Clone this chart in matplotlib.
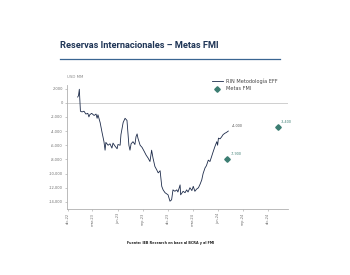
import matplotlib
matplotlib.use("Agg")
import matplotlib.pyplot as plt
import pandas as pd

# ---- data ----
rin_dates = [
    "2023-01-06", "2023-01-09", "2023-01-12", "2023-01-16", "2023-01-22", "2023-01-29",
    "2023-02-05", "2023-02-12", "2023-02-16", "2023-02-19", "2023-02-26", "2023-03-07",
    "2023-03-14", "2023-03-18", "2023-03-21", "2023-03-29", "2023-04-05", "2023-04-12",
    "2023-04-16", "2023-04-19", "2023-04-27", "2023-05-04", "2023-05-11", "2023-05-15",
    "2023-05-22", "2023-05-30", "2023-06-02", "2023-06-10", "2023-06-13", "2023-06-21",
    "2023-06-28", "2023-07-05", "2023-07-09", "2023-07-12", "2023-07-16", "2023-07-20",
    "2023-07-27", "2023-08-03", "2023-08-07", "2023-08-11", "2023-08-14", "2023-08-22",
    "2023-08-29", "2023-09-05", "2023-09-13", "2023-09-20", "2023-09-27", "2023-10-03",
    "2023-10-08", "2023-10-15", "2023-10-22", "2023-10-27", "2023-11-03", "2023-11-09",
    "2023-11-14", "2023-11-21", "2023-12-02", "2023-12-09", "2023-12-15", "2023-12-20",
    "2023-12-27", "2024-01-03", "2024-01-07", "2024-01-15", "2024-01-17", "2024-01-26",
    "2024-02-02", "2024-02-08", "2024-02-13", "2024-02-20", "2024-02-27", "2024-03-03",
    "2024-03-09", "2024-03-15", "2024-03-22", "2024-03-28", "2024-04-03", "2024-04-08",
    "2024-04-15", "2024-04-20", "2024-04-27", "2024-05-03", "2024-05-09", "2024-05-14",
    "2024-05-21", "2024-05-28", "2024-05-31", "2024-06-03", "2024-06-09", "2024-06-15",
    "2024-06-20", "2024-06-27", "2024-07-02", "2024-07-09",
]
rin_values = [
    800, 1000, 1900, -1200, -1300, -1200,
    -1600, -1500, -2000, -1700, -1500, -1800,
    -1600, -2200, -1700, -2800, -4200, -5500,
    -6700, -5600, -6000, -5800, -6400, -5700,
    -6100, -6500, -5900, -6000, -4500, -2800,
    -2200, -2500, -4500, -6000, -6700, -5800,
    -5500, -5900, -4800, -4400, -5000, -6000,
    -6300, -6800, -7400, -7800, -8300, -6700,
    -7800, -9000, -9500, -9900, -9600, -11800,
    -12300, -12700, -13000, -13900, -13700, -12300,
    -12500, -12300, -12600, -11600, -13000, -12500,
    -12700, -12300, -12600, -12000, -12400, -11800,
    -12500, -12200, -12000, -11500, -10900, -10000,
    -9200, -8900, -8100, -8300, -7600, -7000,
    -6200, -5500, -6000, -5000, -5100, -4800,
    -4500, -4300, -4200, -4000,
]
meta_dates = ["2024-07-06", "2025-01-05"]
meta_values = [-7900, -3400]

tick_dates = ["2022-12-01", "2023-03-01", "2023-06-01", "2023-09-01", "2023-12-01",
              "2024-03-01", "2024-06-01", "2024-09-01", "2024-12-01"]
tick_labels = ["dic-22", "mar-23", "jun-23", "sep-23", "dic-23",
               "mar-24", "jun-24", "sep-24", "dic-24"]
y_ticks = [2000, 0, -2000, -4000, -6000, -8000, -10000, -12000, -14000]

title = "Reservas Internacionales – Metas FMI"
source = "Fuente: IEB Research en base al BCRA y al FMI"
unit = "USD MM"
series_names = ["RIN Metodología EFF", "Metas FMI"]

# ---- style ----
NAVY = "#1d2b4a"
TEAL = "#3c7d72"
GRAY = "#8a8a8a"

W, H = 350, 275
fig = plt.figure(figsize=(W / 100, H / 100), dpi=100)
fig.patch.set_facecolor("white")

ax = fig.add_axes([67 / W, (H - 209) / H, (288 - 67) / W, (209 - 85) / H])

rd = pd.to_datetime(rin_dates)
md = pd.to_datetime(meta_dates)

ax.axhline(0, color="#c8c8c8", lw=0.6, zorder=1)
ln, = ax.plot(rd, rin_values, color=NAVY, lw=0.6, zorder=3, label=series_names[0])
mk, = ax.plot(md, meta_values, linestyle="none", marker="D", ms=2.8, color=TEAL,
              zorder=4, label=series_names[1])

# annotations
ax.annotate(f"{rin_values[-1]:,}", (rd[-1], rin_values[-1]), xytext=(2.5, 2),
            textcoords="offset points", fontsize=2.4, color="#555555", va="bottom")
for d, v in zip(md, meta_values):
    ax.annotate(f"{v:,}", (d, v), xytext=(2.5, 2), textcoords="offset points",
                fontsize=2.4, color=TEAL, va="bottom")

ax.set_ylim(-15000, 2500)
ax.set_xlim(pd.Timestamp("2022-11-28"), pd.Timestamp("2025-02-12"))
ax.set_yticks(y_ticks)
ax.set_yticklabels([f"{v:,}" for v in y_ticks])
ax.set_xticks(pd.to_datetime(tick_dates))
ax.set_xticklabels(tick_labels, rotation=90)

for s in ["top", "right"]:
    ax.spines[s].set_visible(False)
for s in ["left", "bottom"]:
    ax.spines[s].set_color("#b0b0b0")
    ax.spines[s].set_linewidth(0.6)
ax.tick_params(axis="both", labelsize=2.6, colors="#b0b0b0", labelcolor="#707070",
               length=1.5, width=0.5, pad=1.5)

fig.text(67 / W, (H - 77) / H, unit, fontsize=2.8, color=GRAY, ha="left", va="center")

ax.legend(handles=[ln, mk], loc="upper left", bbox_to_anchor=(207 / W, (H - 74) / H),
          bbox_transform=fig.transFigure, frameon=False, fontsize=3.6,
          handlelength=2.2, handletextpad=0.8, labelspacing=0.5, labelcolor="#444444")

# title and rule
fig.text(60 / W, (H - 45) / H, title, fontsize=6.7, fontweight="bold", color="#1f3556",
         ha="left", va="center", family=["Roboto", "DejaVu Sans"])
fig.add_artist(plt.Line2D([60 / W, 280 / W], [(H - 59) / H, (H - 59) / H],
                          color="#3a6592", lw=0.9, transform=fig.transFigure))

fig.text(171 / W, (H - 243) / H, source, fontsize=2.4, fontweight="bold", color="#222222",
         ha="center", va="center")

fig.savefig("out.png", dpi=100, facecolor="white")
